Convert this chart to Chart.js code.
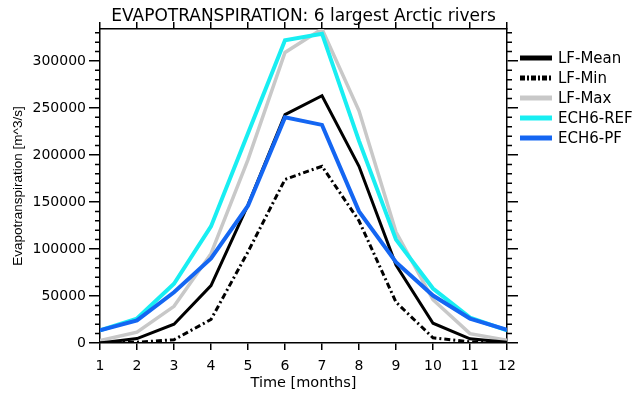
<!DOCTYPE html>
<html><head><meta charset="utf-8">
<script src="https://cdn.jsdelivr.net/npm/chart.js@4"></script>
<style>html,body{margin:0;padding:0;background:#fff}#c{display:block}</style>
</head><body>
<canvas id="c" width="632" height="396"></canvas>
<script>
const months = [1, 2, 3, 4, 5, 6, 7, 8, 9, 10, 11, 12];
const seriesNames = ['LF-Mean', 'LF-Min', 'LF-Max', 'ECH6-REF', 'ECH6-PF'];
const lfMean  = [0, 4700, 20000, 61000, 147000, 243000, 263000, 188000, 83000, 21000, 4500, 800];
const lfMin   = [0, 800, 3500, 25000, 97000, 174000, 188000, 130000, 43500, 5500, 1200, 0];
const lfMax   = [2500, 11500, 39000, 95000, 195000, 309000, 334000, 247000, 118000, 46000, 10000, 2800];
const ech6Ref = [13500, 26000, 63000, 124000, 223000, 322000, 329000, 215000, 110000, 58000, 27000, 13500];
const ech6Pf  = [13500, 24000, 54000, 90000, 146000, 240000, 232000, 140000, 86000, 50500, 26000, 14000];
const yTicks = [0, 50000, 100000, 150000, 200000, 250000, 300000];
const yMinorStep = 10000;
const yMax = 334000;

const FONT = 'DejaVu Sans';
const colors = ['#000000', '#000000', '#c8c8c8', '#18eef2', '#1466f2'];
const widths = [3, 3, 3.5, 4, 4];
const dashes = [[], [6, 3, 2, 3], [], [], []];
const values = [lfMean, lfMin, lfMax, ech6Ref, ech6Pf];

const datasets = values.map((v, i) => ({
  label: seriesNames[i],
  data: months.map((m, j) => ({x: m, y: v[j]})),
  borderColor: colors[i],
  backgroundColor: colors[i],
  borderWidth: widths[i],
  borderDash: dashes[i],
  pointRadius: 0,
  tension: 0,
  fill: false,
  order: [2, 3, 4, 1, 0][i]
}));

const extras = {
  id: 'extras',
  afterDraw(chart) {
    const c = chart.ctx, y = chart.scales.y, a = chart.chartArea;
    c.save();
    c.strokeStyle = '#000'; c.lineWidth = 1.5;
    for (let v = 0; v <= yMax; v += yMinorStep) {
      if (yTicks.includes(v)) continue;
      const py = y.getPixelForValue(v);
      c.beginPath();
      c.moveTo(a.left - 5, py); c.lineTo(a.left, py);
      c.moveTo(a.right, py); c.lineTo(a.right + 5, py);
      c.stroke();
    }
    // legend
    c.font = '15px "' + FONT + '"';
    c.textBaseline = 'middle';
    c.textAlign = 'left';
    chart.data.datasets.forEach((d, i) => {
      const ly = 58 + 20 * i;
      c.beginPath();
      c.strokeStyle = d.borderColor;
      c.lineWidth = 5;
      c.setLineDash(i === 1 ? [5, 2, 2, 2] : []);
      c.moveTo(520, ly); c.lineTo(552, ly);
      c.stroke();
      c.setLineDash([]);
      c.fillStyle = '#000';
      c.fillText(d.label, 558, ly + 1);
    });
    c.restore();
  }
};

const axisGrid = {drawOnChartArea: false, color: '#000', lineWidth: 1.5};
const axisBorder = {color: '#000', width: 1.5};
const tickFont = {family: FONT, size: 14};
const setX = s => { s.ticks = months.map(v => ({value: v})); };
const setY = s => { s.ticks = yTicks.map(v => ({value: v})); };

new Chart(document.getElementById('c'), {
  type: 'line',
  data: {datasets},
  options: {
    responsive: false, animation: false, devicePixelRatio: 1,
    layout: {padding: 0},
    plugins: {
      legend: {display: false},
      tooltip: {enabled: false},
      title: {display: true, text: 'EVAPOTRANSPIRATION: 6 largest Arctic rivers',
        fullSize: false, color: '#000', font: {family: FONT, size: 17, weight: 'normal'},
        padding: {top: 6, bottom: 0}}
    },
    scales: {
      x: {type: 'linear', position: 'bottom', min: 1, max: 12,
        afterBuildTicks: setX,
        ticks: {color: '#000', font: {family: FONT, size: 14}, padding: 8, maxRotation: 0, autoSkip: false},
        grid: Object.assign({tickLength: 7}, axisGrid), border: axisBorder,
        title: {display: true, text: 'Time [months]', color: '#000', font: {family: FONT, size: 14.5}, padding: {top: 0, bottom: 4}},
        afterFit(s) { s.height = 53; }},
      x2: {type: 'linear', position: 'top', min: 1, max: 12,
        afterBuildTicks: setX,
        ticks: {display: false},
        grid: Object.assign({tickLength: 7}, axisGrid), border: axisBorder,
        afterFit(s) { s.height = 2.6; }},
      y: {type: 'linear', position: 'left', min: 0, max: yMax,
        afterBuildTicks: setY,
        ticks: {color: '#000', font: tickFont, padding: 3, autoSkip: false, callback: v => String(v)},
        grid: Object.assign({tickLength: 11}, axisGrid), border: axisBorder,
        title: {display: true, text: 'Evapotranspiration [m^3/s]', color: '#000', font: {family: 'Liberation Sans', size: 13.5}, padding: {top: 10, bottom: 0}},
        afterFit(s) { s.width = 100; }},
      y2: {type: 'linear', position: 'right', min: 0, max: yMax,
        afterBuildTicks: setY,
        ticks: {display: false},
        grid: Object.assign({tickLength: 11}, axisGrid), border: axisBorder,
        afterFit(s) { s.width = 125; }}
    }
  },
  plugins: [extras]
});
</script>
</body></html>
